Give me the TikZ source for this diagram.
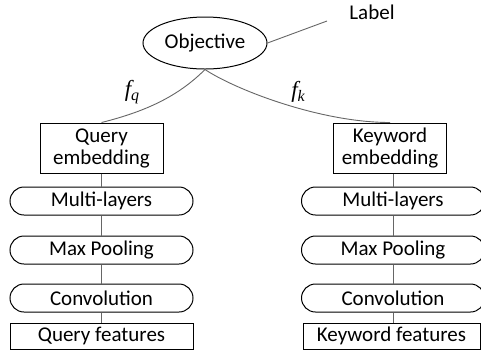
\documentclass[tikz,border=0pt]{standalone}
\usepackage{fontspec}
\setmainfont{Carlito}
\newfontfamily\fnfont{Liberation Serif}
\usetikzlibrary{shapes.geometric}
\newcommand{\fname}[1]{{\fnfont\itshape\fontsize{23}{23}\selectfont f\raisebox{-4pt}{\fontsize{16}{16}\selectfont #1}}}

\begin{document}
\begin{tikzpicture}[x=1pt,y=-1pt,
    every node/.style={font=\fontsize{21}{22}\selectfont},
    plainbox/.style={draw,line width=1pt,rectangle,inner sep=0pt,align=center},
    layerbox/.style={draw,line width=1pt,rectangle,rounded corners=14pt,inner sep=0pt,minimum width=183pt,minimum height=28pt},
    link/.style={draw=black!60,line width=0.9pt}]
    \useasboundingbox (0,0) rectangle (481,360);
    \node[draw,line width=1pt,ellipse,inner sep=0pt,minimum width=124pt,minimum height=52pt] (obj) at (205,43) {Objective};
    \node (lab) at (372,12) {Label};
    \coordinate (labend) at (327,21);
    \node[plainbox,minimum width=123pt,minimum height=50pt] (qemb) at (101.5,148) {Query\\embedding};
    \node[plainbox,minimum width=113pt,minimum height=50pt] (kemb) at (390,148) {Keyword\\embedding};
    \node[layerbox] (qml) at (101.5,201) {Multi-layers};
    \node[layerbox] (qmp) at (101.5,250) {Max Pooling};
    \node[layerbox] (qconv) at (101.5,298) {Convolution};
    \node[plainbox,minimum width=183pt,minimum height=26pt] (qfeat) at (101.5,336) {Query features};
    \node[layerbox] (kml) at (393,201) {Multi-layers};
    \node[layerbox] (kmp) at (393,250) {Max Pooling};
    \node[layerbox] (kconv) at (393,298) {Convolution};
    \node[plainbox,minimum width=177pt,minimum height=26pt] (kfeat) at (391.5,336) {Keyword features};
    \draw[link] (obj.east)--(labend);
    \draw[link] (obj.south) .. controls +(-27,27) and +(44,-11) .. (qemb.north);
    \draw[link] (obj.south) .. controls +(30,20) and +(-70,0) .. (kemb.north);
    \node (fq) at (132,92) {\fname{q}};
    \node (fk) at (298,92) {\fname{k}};
    \draw[link] (qemb)--(qml) (qml)--(qmp) (qmp)--(qconv) (qconv)--(qfeat);
    \draw[link] (kml.north)--(kml.north|-kemb.south) (kml)--(kmp) (kmp)--(kconv) (kconv)--(kconv.south|-kfeat.north);
\end{tikzpicture}
\end{document}
